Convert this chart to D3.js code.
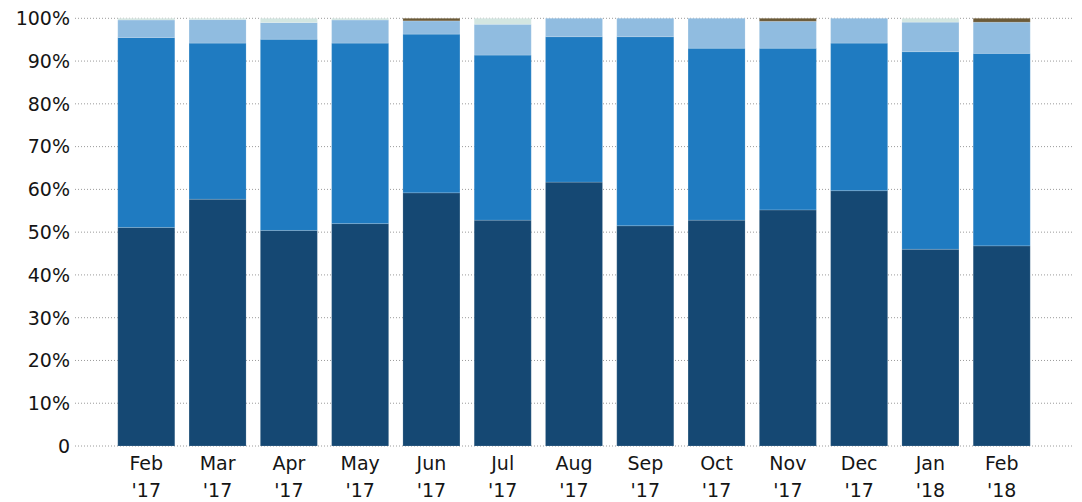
<!DOCTYPE html>
<html>
<head>
<meta charset="utf-8">
<script src="https://cdn.jsdelivr.net/npm/d3@7"></script>
<style>
html,body{margin:0;padding:0;background:#fff;}
svg text{font-family:"DejaVu Sans",Verdana,sans-serif;font-size:19px;fill:#151515;}
</style>
</head>
<body>
<svg id="chart" width="1082" height="502"></svg>
<script>
const months = ["Feb", "Mar", "Apr", "May", "Jun", "Jul", "Aug", "Sep", "Oct", "Nov", "Dec", "Jan", "Feb"];
const years  = ["'17", "'17", "'17", "'17", "'17", "'17", "'17", "'17", "'17", "'17", "'17", "'18", "'18"];
const seriesNames = ["s1", "s2", "s3", "s4", "s5"];
const s1 = [51.1, 57.7, 50.4, 52.0, 59.2, 52.8, 61.7, 51.5, 52.8, 55.2, 59.7, 46.0, 46.8];
const s2 = [44.4, 36.5, 44.7, 42.2, 37.1, 38.6, 34.0, 44.2, 40.2, 37.8, 34.5, 46.2, 45.0];
const s3 = [4.1, 5.5, 3.9, 5.4, 3.1, 7.2, 4.3, 4.3, 7.0, 6.3, 5.8, 6.9, 7.3];
const s4 = [0.4, 0.3, 1.0, 0.4, 0.0, 1.4, 0.0, 0.0, 0.0, 0.0, 0.0, 0.9, 0.0];
const s5 = [0.0, 0.0, 0.0, 0.0, 0.6, 0.0, 0.0, 0.0, 0.0, 0.7, 0.0, 0.0, 0.9];
const yTicks = [0, 0.1, 0.2, 0.3, 0.4, 0.5, 0.6, 0.7, 0.8, 0.9, 1.0];
const colors = ["#154873", "#1f7bc1", "#90bce0", "#d3e6e1", "#6b5a38"];

const svg = d3.select("#chart");
const mLeft = 75, mRight = 1073, mTop = 18.3, mBottom = 446;

const rows = months.map((m, i) => ({key: i, s1: s1[i], s2: s2[i], s3: s3[i], s4: s4[i], s5: s5[i]}));
const stack = d3.stack().keys(seriesNames).offset(d3.stackOffsetExpand);
const layers = stack(rows);

const x = d3.scaleBand().domain(d3.range(months.length)).range([mLeft, mRight])
  .paddingInner(0.2).paddingOuter(0.6);
const y = d3.scaleLinear().domain([0, 1]).range([mBottom, mTop]);

// gridlines
svg.append("g").selectAll("line").data(yTicks).join("line")
  .attr("x1", mLeft).attr("x2", mRight)
  .attr("y1", d => y(d)).attr("y2", d => y(d))
  .attr("stroke", "#9a9a9a").attr("stroke-width", 1)
  .attr("stroke-dasharray", "1,2");

// y labels
svg.append("g").selectAll("text").data(yTicks).join("text")
  .attr("x", 70).attr("y", d => y(d))
  .attr("dy", "0.36em").attr("text-anchor", "end")
  .text(d => d === 0 ? "0" : d3.format(".0%")(d));

// bars
svg.append("g").selectAll("g").data(layers).join("g")
  .attr("fill", (d, i) => colors[i])
  .selectAll("rect").data(d => d).join("rect")
  .attr("x", d => x(d.data.key))
  .attr("width", x.bandwidth())
  .attr("y", d => y(d[1]))
  .attr("height", d => Math.max(0, y(d[0]) - y(d[1])))
  .attr("stroke", "rgba(255,255,255,0.15)")
  .attr("stroke-width", 1);

// x labels
const xl = svg.append("g").selectAll("text").data(months).join("text")
  .attr("text-anchor", "middle")
  .attr("x", (d, i) => x(i) + x.bandwidth() / 2)
  .attr("y", 470);
xl.append("tspan").text(d => d);
xl.append("tspan").attr("x", (d, i) => x(i) + x.bandwidth() / 2).attr("dy", 27)
  .text((d, i) => years[i]);
</script>
</body>
</html>
